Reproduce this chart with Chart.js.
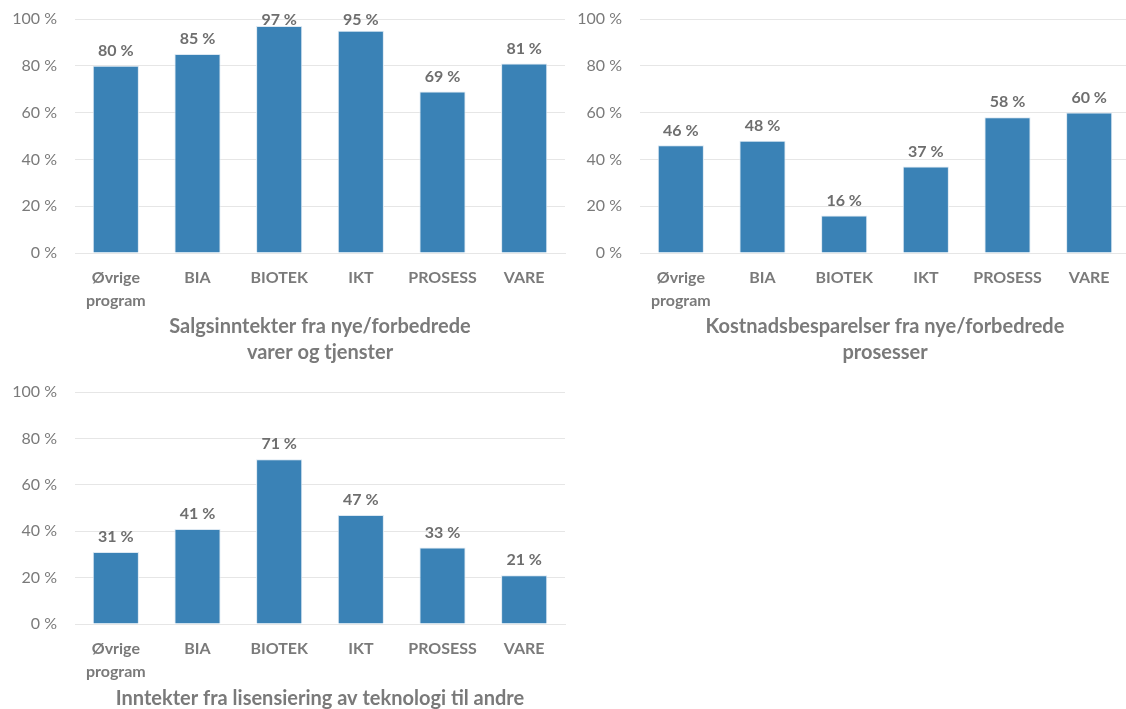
<!DOCTYPE html>
<html>
<head>
<meta charset="utf-8">
<script src="https://cdn.jsdelivr.net/npm/chart.js@4/dist/chart.umd.min.js"></script>
<style>
html,body{margin:0;padding:0;background:#fff;overflow:hidden;width:1126px;height:709px;}
canvas{position:absolute;display:block;}
</style>
</head>
<body>
<canvas id="c1" width="570" height="370" style="left:0;top:0;width:570px;height:370px;"></canvas>
<canvas id="c2" width="570" height="370" style="left:565px;top:0;width:570px;height:370px;"></canvas>
<canvas id="c3" width="570" height="339" style="left:0;top:370px;width:570px;height:339px;"></canvas>
<script>
const categories = [["Øvrige","program"], "BIA", "BIOTEK", "IKT", "PROSESS", "VARE"];
const salesValues = [80, 85, 97, 95, 69, 81];
const costValues = [46, 48, 16, 37, 58, 60];
const licenseValues = [31, 41, 71, 47, 33, 21];
const yTicks = [0, 20, 40, 60, 80, 100];
const title1 = ["Salgsinntekter fra nye/forbedrede", "varer og tjenster"];
const title2 = ["Kostnadsbesparelser fra nye/forbedrede", "prosesser"];
const title3 = "Inntekter fra lisensiering av teknologi til andre";

const FONT = "Lato, 'Open Sans', sans-serif";
const BAR = "#3A82B6";
const GRID = "#E6E6E6";
const TXT = "#7A7A7A";

const labelPlugin = {
  id: 'barLabels',
  afterDatasetsDraw(chart) {
    const ctx = chart.ctx;
    const meta = chart.getDatasetMeta(0);
    const data = chart.data.datasets[0].data;
    ctx.save();
    ctx.font = "bold 16px " + FONT;
    ctx.fillStyle = "#6E6E6E";
    ctx.textAlign = "center";
    ctx.textBaseline = "middle";
    meta.data.forEach((el, i) => {
      const y = Math.max(el.y - 15, chart.chartArea.top + 1);
      ctx.fillText(data[i] + " %", el.x, y);
    });
    ctx.restore();
  }
};

function makeChart(id, values, title, opts) {
  new Chart(document.getElementById(id), {
    type: 'bar',
    data: {
      labels: categories,
      datasets: [{
        data: values,
        backgroundColor: BAR,
        borderColor: "#DCE8F2",
        borderWidth: 1,
        barPercentage: 0.565,
        categoryPercentage: 1.0
      }]
    },
    options: {
      responsive: false,
      animation: false,
      devicePixelRatio: 1,
      layout: { padding: { left: 0, right: opts.padRight, top: opts.top, bottom: 0 } },
      plugins: { legend: { display: false }, tooltip: { enabled: false } },
      scales: {
        x: {
          grid: { display: false, drawTicks: false },
          border: { display: true, color: GRID, width: 1 },
          ticks: {
            color: TXT,
            font: { family: FONT, size: 16, weight: 'bold', lineHeight: 1.4 },
            padding: 14,
            maxRotation: 0,
            autoSkip: false
          },
          title: {
            display: true,
            text: title,
            color: TXT,
            font: { family: FONT, size: 20, weight: 'bold', lineHeight: 1.3 },
            padding: { top: 0, bottom: opts.titlePad }
          },
          afterFit(scale) { scale.height = opts.xHeight; scale.paddingLeft = 0; scale.paddingRight = 0; }
        },
        y: {
          min: 0, max: 100,
          afterBuildTicks(scale) { scale.ticks = yTicks.map(v => ({ value: v })); },
          grid: { color: GRID, lineWidth: 1, drawTicks: false },
          border: { display: false },
          ticks: {
            color: TXT,
            font: { family: FONT, size: 16 },
            padding: 18,
            callback: v => v + " %"
          },
          afterFit(scale) { scale.width = opts.yWidth; scale.paddingTop = 0; scale.paddingBottom = 0; }
        }
      }
    },
    plugins: [labelPlugin]
  });
}

makeChart('c1', salesValues, title1, { top: 19, padRight: 5, xHeight: 117, yWidth: 75, titlePad: 4 });
makeChart('c2', costValues, title2, { top: 19, padRight: 5, xHeight: 117, yWidth: 75, titlePad: 4 });
makeChart('c3', licenseValues, title3, { top: 22, padRight: 5, xHeight: 85, yWidth: 75, titlePad: -3 });
</script>
</body>
</html>
